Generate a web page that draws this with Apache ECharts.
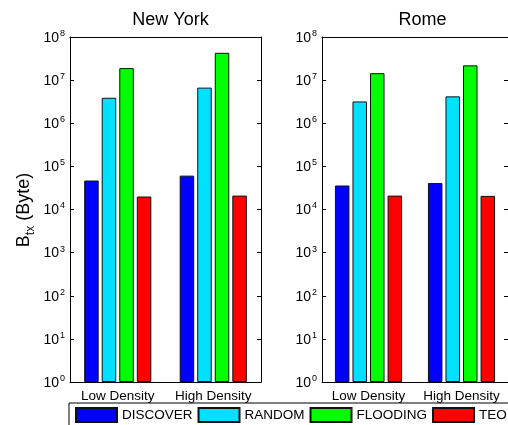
<!DOCTYPE html>
<html>
<head>
<meta charset="utf-8">
<script src="https://cdn.jsdelivr.net/npm/echarts@6/dist/echarts.min.js"></script>
<style>
  html, body { margin: 0; padding: 0; background: #fff; }
  #chart { width: 508px; height: 425px; }
</style>
</head>
<body>
<div id="chart"></div>
<script>
// Transmitted bytes per strategy, log scale, two cities
const categories = ['Low Density', 'High Density'];
const seriesNames = ['DISCOVER', 'RANDOM', 'FLOODING', 'TEO'];
const seriesColors = ['#0000ff', '#00e0ff', '#00ff00', '#ff0000'];
const panelTitles = ['New York', 'Rome'];

const nyDiscover = [47000, 61000];
const nyRandom = [3.9e6, 6.7e6];
const nyFlooding = [1.9e7, 4.3e7];
const nyTeo = [2.0e4, 2.1e4];

const romeDiscover = [3.6e4, 4.1e4];
const romeRandom = [3.2e6, 4.2e6];
const romeFlooding = [1.45e7, 2.2e7];
const romeTeo = [2.1e4, 2.07e4];

const yMin = 1, yMax = 1e8;

const FONT = '"Liberation Sans", Arial, Helvetica, sans-serif';
const chart = echarts.init(document.getElementById('chart'), null, { renderer: 'canvas' });

const panels = [
  { left: 70, data: [nyDiscover, nyRandom, nyFlooding, nyTeo] },
  { left: 322, data: [romeDiscover, romeRandom, romeFlooding, romeTeo] }
];
const PANEL_W = 191, PANEL_TOP = 37, PANEL_H = 345;

const grids = [], xAxes = [], yAxes = [], series = [], titles = [];

function powLabel(v) {
  const e = Math.round(Math.log10(v));
  return '{b|10}{e|' + e + '}';
}

panels.forEach((p, i) => {
  grids.push({ left: p.left, top: PANEL_TOP, width: PANEL_W, height: PANEL_H, containLabel: false });
  titles.push({
    text: panelTitles[i], left: p.left + PANEL_W / 2, top: 6, textAlign: 'center',
    textStyle: { fontFamily: FONT, fontSize: 18, fontWeight: 'normal', color: '#000' }
  });
  // bottom category axis
  xAxes.push({
    type: 'category', gridIndex: i, data: categories, position: 'bottom',
    axisLine: { lineStyle: { color: '#000', width: 1 } },
    axisTick: { inside: true, alignWithLabel: true, length: 4, lineStyle: { color: '#000' } },
    axisLabel: { interval: 0, hideOverlap: false, fontFamily: FONT, fontSize: 13.5, color: '#000', margin: 7 },
    splitLine: { show: false }
  });
  // top frame
  xAxes.push({
    type: 'category', gridIndex: i, data: categories, position: 'top',
    axisLine: { lineStyle: { color: '#000', width: 1 } },
    axisTick: { inside: true, alignWithLabel: true, length: 4, lineStyle: { color: '#000' } },
    axisLabel: { show: false }, splitLine: { show: false }
  });
  yAxes.push({
    type: 'log', logBase: 10, gridIndex: i, min: yMin, max: yMax, splitNumber: 8, position: 'left',
    axisLine: { show: true, lineStyle: { color: '#000', width: 1 } },
    axisTick: { show: true, inside: true, length: 4, lineStyle: { color: '#000' } },
    axisLabel: {
      formatter: powLabel, margin: 5, color: '#000',
      rich: {
        b: { fontFamily: FONT, fontSize: 14, color: '#000', lineHeight: 16, verticalAlign: 'bottom' },
        e: { fontFamily: FONT, fontSize: 9, color: '#000', lineHeight: 16, verticalAlign: 'top', padding: [0, 0, 0, 1] }
      }
    },
    splitLine: { show: false }
  });
  yAxes.push({
    type: 'log', logBase: 10, gridIndex: i, min: yMin, max: yMax, splitNumber: 8, position: 'right',
    axisLine: { show: true, lineStyle: { color: '#000', width: 1 } },
    axisTick: { show: true, inside: true, length: 4, lineStyle: { color: '#000' } },
    axisLabel: { show: false }, splitLine: { show: false }
  });
  p.data.forEach((vals, k) => {
    series.push({
      name: seriesNames[k], type: 'bar', xAxisIndex: i * 2, yAxisIndex: i * 2,
      data: vals, barWidth: 14.5, barGap: '21%',
      itemStyle: { color: seriesColors[k], borderColor: '#111', borderWidth: 1 },
      emphasis: { disabled: true }, animation: false
    });
  });
});

chart.setOption({
  animation: false,
  backgroundColor: '#fff',
  title: titles,
  grid: grids,
  xAxis: xAxes,
  yAxis: yAxes,
  series: series,
  legend: {
    data: seriesNames, left: 75, top: 407, width: 700, padding: 0,
    itemWidth: 41, itemHeight: 14, itemGap: 5,
    icon: 'rect', selectedMode: false,
    textStyle: { fontFamily: FONT, fontSize: 13.5, color: '#000' }
  },
  graphic: [
    {
      type: 'rect', left: 66.5, top: 400.5, silent: true,
      shape: { width: 480, height: 40 },
      style: { fill: 'none', stroke: '#000', lineWidth: 1 }
    },
    {
      type: 'text', x: 26, y: 210, rotation: Math.PI / 2, silent: true,
      style: {
        text: '{m|B}{s|tx}{m| (Byte)}', align: 'center', verticalAlign: 'middle',
        rich: {
          m: { fontFamily: FONT, fontSize: 18, fill: '#000', lineHeight: 20, verticalAlign: 'top' },
          s: { fontFamily: FONT, fontSize: 12, fill: '#000', lineHeight: 22, verticalAlign: 'bottom' }
        }
      }
    }
  ]
});
</script>
</body>
</html>
